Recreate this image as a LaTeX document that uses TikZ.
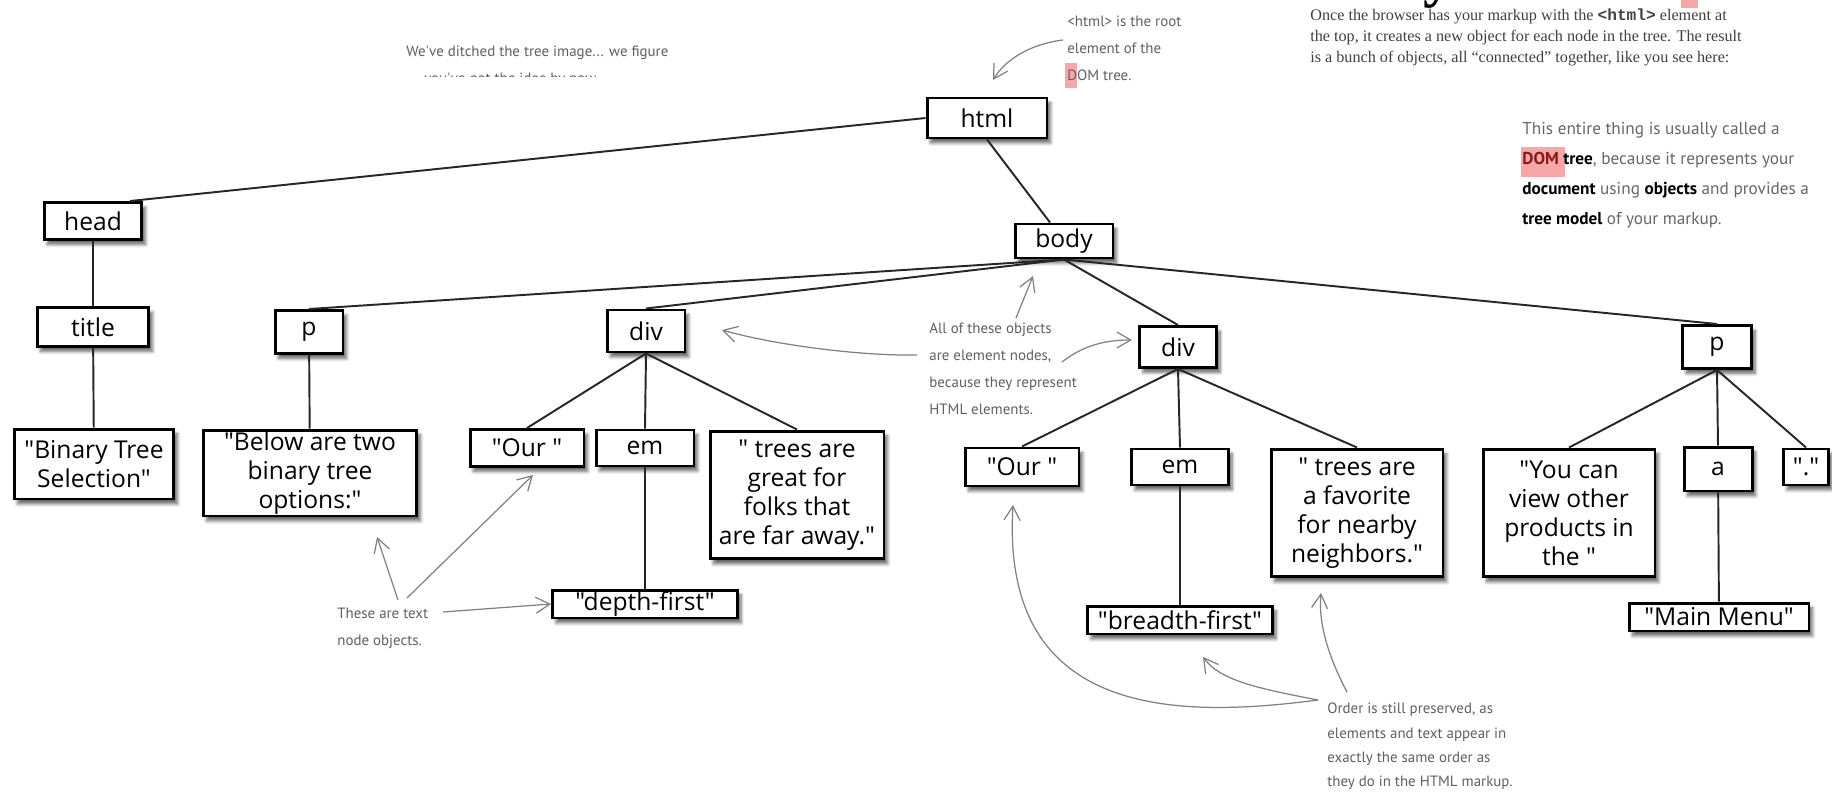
\documentclass[tikz,border=0pt]{standalone}
\usepackage{fontspec}
\setmainfont{Liberation Serif}
\newfontfamily\treefont{Open Sans}
\newfontfamily\handfont{PT Sans}
\newfontfamily\codefont{Liberation Mono}
\usetikzlibrary{arrows.meta,shadows.blur}
\definecolor{hlpink}{RGB}{246,168,168}
\definecolor{notegray}{RGB}{95,95,95}
\definecolor{domred}{RGB}{140,25,25}

\begin{document}
\begin{tikzpicture}[x=0.02cm,y=-0.02cm,
  elem/.style={draw=black,line width=1.7pt,fill=white,inner sep=0pt,align=center,
    font=\treefont\fontsize{14}{16.5}\selectfont,
    blur shadow={shadow xshift=2pt,shadow yshift=-2.8pt,shadow blur steps=6,shadow opacity=60}},
  link/.style={line width=1.1pt,draw=black!85},
  note/.style={font=\handfont\fontsize{8.5}{15.2}\selectfont,text=notegray,align=left,
    anchor=north west,inner sep=0pt},
  pointer/.style={-{Straight Barb[length=2.8mm,width=3.2mm]},draw=black!50,line width=0.7pt}]
  \useasboundingbox (0,0) rectangle (1832,804);
  % cut heading at the top
  \fill[hlpink] (1681,0) rectangle (1698,8);
  \begin{scope}
    \clip (1415,0) rectangle (1465,11);
    \node[font=\bfseries\fontsize{34}{34}\selectfont,anchor=base] (headfrag) at (1438,-4) {y};
  \end{scope}
  % text in the book
  \node[anchor=north west,inner sep=0pt,align=left,font=\fontsize{9.2}{12.2}\selectfont,text=black!75]
    (intro) at (1310,8) {Once the browser has your markup with the {\codefont\bfseries <html>} element at\\
    the top, it creates a new object for each node in the tree. The result\\
    is a bunch of objects, all “connected” together, like you see here:};
  \fill[hlpink] (1521,147) rectangle (1565,177);
  \node[note,font=\handfont\fontsize{9.8}{17}\selectfont,text=black!60] (entire) at (1522,122)
    {This entire thing is usually called a\\
    \textcolor{domred}{\textbf{DOM}} \textcolor{black}{\textbf{tree}}, because it represents your\\
    \textcolor{black}{\textbf{document}} using \textcolor{black}{\textbf{objects}} and provides a\\
    \textcolor{black}{\textbf{tree model}} of your markup.};

  % element nodes
  \node[elem,minimum width=2.4cm,minimum height=0.8cm] (html) at (987,118) {html};
  \node[elem,minimum width=1.96cm,minimum height=0.74cm] (head) at (93,221) {head};
  \node[elem,minimum width=1.96cm,minimum height=0.68cm] (body) at (1064,241) {body};
  \node[elem,minimum width=2.24cm,minimum height=0.78cm] (title) at (93,327) {title};
  \node[elem,minimum width=1.36cm,minimum height=0.86cm] (p1) at (309,332) {p};
  \node[elem,minimum width=1.56cm,minimum height=0.84cm] (div1) at (646,331) {div};
  \node[elem,minimum width=1.54cm,minimum height=0.82cm] (div2) at (1178,347) {div};
  \node[elem,minimum width=1.38cm,minimum height=0.86cm] (p2) at (1717,347) {p};
  \node[elem,minimum width=1.96cm,minimum height=0.72cm] (em1) at (645,448) {em};
  \node[elem,minimum width=1.94cm,minimum height=0.72cm] (em2) at (1180,467) {em};
  \node[elem,minimum width=1.36cm,minimum height=0.88cm] (a) at (1718,469) {a};
  % text nodes
  \node[elem,minimum width=3.2cm,minimum height=1.4cm] (bts) at (94,464) {"Binary Tree\\ Selection"};
  \node[elem,minimum width=4.28cm,minimum height=1.72cm] (below) at (310,473) {"Below are two\\binary tree\\options:"};
  \node[elem,minimum width=2.28cm,minimum height=0.74cm] (our1) at (527,448) {"Our "};
  \node[elem,minimum width=3.48cm,minimum height=2.56cm] (trees1) at (797,495) {" trees are\\great for\\folks that\\are far away."};
  \node[elem,minimum width=3.7cm,minimum height=0.56cm] (depth) at (645,604) {"depth-first"};
  \node[elem,minimum width=2.28cm,minimum height=0.76cm] (our2) at (1022,467) {"Our "};
  \node[elem,minimum width=3.44cm,minimum height=2.56cm] (trees2) at (1357,513) {" trees are\\a favorite\\for nearby\\neighbors."};
  \node[elem,minimum width=3.7cm,minimum height=0.56cm] (breadth) at (1180,620) {"breadth-first"};
  \node[elem,minimum width=3.44cm,minimum height=2.56cm] (youcan) at (1569,513) {"You can\\view other\\products in\\the "};
  \node[elem,minimum width=0.9cm,minimum height=0.72cm] (dot) at (1806,467) {"."};
  \node[elem,minimum width=3.6cm,minimum height=0.56cm] (menu) at (1719,617) {"Main Menu"};

  % tree links
  \draw[link] (html.west) -- ([xshift=0.74cm]head.north);
  \draw[link] (html.south) -- ([xshift=-0.28cm]body.north);
  \draw[link] (head) -- (title);
  \draw[link] (title) -- (bts);
  \draw[link] (body.south) -- (p1.north);
  \draw[link] (body.south) -- (div1.north);
  \draw[link] (body.south) -- (div2.north);
  \draw[link] (body.south) -- (p2.north);
  \draw[link] (p1) -- (below);
  \draw[link] (div1.south) -- (our1.north);
  \draw[link] (div1.south) -- (em1.north);
  \draw[link] (div1.south) -- (trees1.north);
  \draw[link] (em1) -- (depth);
  \draw[link] (div2.south) -- (our2.north);
  \draw[link] (div2.south) -- (em2.north);
  \draw[link] (div2.south) -- (trees2.north);
  \draw[link] (em2) -- (breadth);
  \draw[link] (p2.south) -- (youcan.north);
  \draw[link] (p2.south) -- (a.north);
  \draw[link] (p2.south) -- (dot.north);
  \draw[link] (a) -- (menu);

  % notes
  \node[note] (ditched) at (406,46) {We've ditched the tree image... we figure};
  \begin{scope}
    \clip (380,66) rectangle (720,77);
    \node[note] (ditchedcut) at (424,73) {you've got the idea by now.};
  \end{scope}
  \fill[hlpink] (1065,63) rectangle (1077,88);
  \node[note] (root) at (1067,16) {<html> is the root\\element of the\\DOM tree.};
  \node[note] (allof) at (929,323) {All of these objects\\are element nodes,\\because they represent\\HTML elements.};
  \node[note] (textnote) at (337,608) {These are text\\node objects.};
  \node[note,font=\handfont\fontsize{8.5}{13.7}\selectfont] (order) at (1327,703)
    {Order is still preserved, as\\elements and text appear in\\exactly the same order as\\they do in the HTML markup.};

  % pointers
  \coordinate (rootfrom) at (1063,40);
  \coordinate (roottip) at (993,80);
  \draw[pointer] (rootfrom) .. controls (1030,44) and (1005,60) .. (roottip);
  \coordinate (allofa) at (917,355);
  \coordinate (div1tip) at (722,330);
  \draw[pointer] (allofa) .. controls (860,356) and (775,345) .. (div1tip);
  \coordinate (allofb) at (1062,362);
  \coordinate (div2tip) at (1132,340);
  \draw[pointer] (allofb) .. controls (1080,348) and (1100,340) .. (div2tip);
  \coordinate (allofc) at (1016,318);
  \coordinate (bodytip) at (1033,276);
  \draw[pointer] (allofc) -- (bodytip);
  \coordinate (texta) at (443,612);
  \draw[pointer] (texta) -- (depth.west);
  \coordinate (textb) at (398,600);
  \coordinate (belowtip) at (377,537);
  \draw[pointer] (textb) -- (belowtip);
  \coordinate (textc) at (407,598);
  \coordinate (our1tip) at (533,475);
  \draw[pointer] (textc) -- (our1tip);
  \coordinate (ordera) at (1318,700);
  \coordinate (our2tip) at (1013,505);
  \draw[pointer] (ordera) .. controls (1180,718) and (1000,720) .. (our2tip);
  \coordinate (breadthtip) at (1203,657);
  \draw[pointer] (ordera) .. controls (1255,688) and (1220,680) .. (breadthtip);
  \coordinate (orderb) at (1347,692);
  \coordinate (trees2tip) at (1321,593);
  \draw[pointer] (orderb) .. controls (1330,660) and (1318,625) .. (trees2tip);
\end{tikzpicture}
\end{document}
